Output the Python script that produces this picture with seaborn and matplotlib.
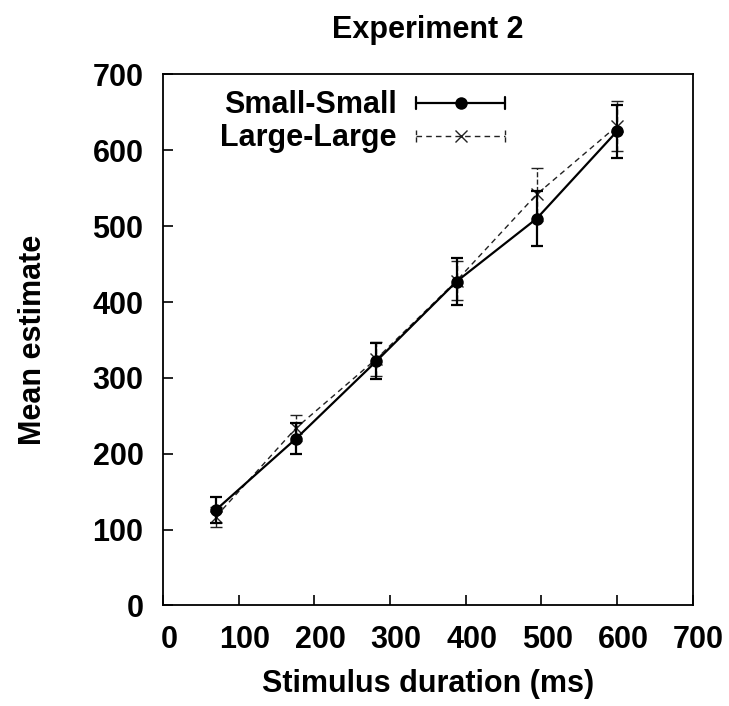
import matplotlib
matplotlib.use("Agg")

import numpy as np
import pandas as pd
import seaborn as sns
import matplotlib.pyplot as plt
import matplotlib.transforms as mtransforms
from matplotlib.lines import Line2D
from matplotlib.legend_handler import HandlerLine2D

# Data
durations = [70, 176, 282, 388, 494, 600]
small_mean = [126, 220, 322, 427, 510, 625]
small_err = [17, 21, 24, 31, 36, 35]
large_mean = [117, 234, 325, 428, 542, 632]
large_err = [13, 17, 22, 26, 35, 33]

sns.set_style("white")
plt.rcParams['font.family'] = ['Liberation Sans', 'DejaVu Sans']
plt.rcParams['font.weight'] = 'bold'
for key in ['text.color', 'axes.labelcolor', 'xtick.color', 'ytick.color', 'axes.edgecolor']:
    plt.rcParams[key] = 'black'

DASH = (0, (4, 3))
DCOL = '#222222'


class CapHandler(HandlerLine2D):
    # gnuplot-style key sample: horizontal line with end caps
    def create_artists(self, legend, orig_handle, xdescent, ydescent,
                       width, height, fontsize, trans):
        artists = super().create_artists(legend, orig_handle, xdescent, ydescent,
                                         width, height, fontsize, trans)
        yc = height / 2 - ydescent
        h = 0.2 * fontsize
        for x in (-xdescent, width - xdescent):
            cap = Line2D([x, x], [yc - h, yc + h], color=orig_handle.get_color(),
                         lw=orig_handle.get_linewidth(),
                         linestyle=orig_handle.get_linestyle(), transform=trans)
            artists.append(cap)
        return artists


df = pd.DataFrame({
    'duration': durations * 2,
    'mean': small_mean + large_mean,
    'group': ['Small-Small'] * len(durations) + ['Large-Large'] * len(durations),
})

fig = plt.figure(figsize=(7.29, 7.06), dpi=100)
ax = fig.add_axes([0.2236, 0.1425, 0.7264, 0.752])

# error bars
ax.errorbar(durations, small_mean, yerr=small_err, fmt='none', ecolor='black',
            elinewidth=1.6, capsize=4, capthick=1.6, zorder=3)
eb = ax.errorbar(durations, large_mean, yerr=large_err, fmt='none', ecolor=DCOL,
                 elinewidth=1.0, capsize=4, capthick=1.0, zorder=2)
for coll in eb[2]:
    coll.set_linestyle('--')

sns.lineplot(data=df[df.group == 'Large-Large'], x='duration', y='mean', ax=ax,
             color=DCOL, lw=1.0, linestyle=DASH, marker='x', markersize=8,
             markeredgewidth=1.0, markeredgecolor=DCOL, zorder=2)
sns.lineplot(data=df[df.group == 'Small-Small'], x='duration', y='mean', ax=ax,
             color='black', lw=1.6, marker='o', markersize=9, markeredgewidth=0,
             zorder=4)

ax.set_xlim(0, 700)
ax.set_ylim(0, 700)
ax.set_xticks(range(0, 701, 100))
ax.set_yticks(range(0, 701, 100))
ax.tick_params(direction='in', length=7, width=1.2, labelsize=22,
               bottom=True, left=True, top=False, right=False)
ax.tick_params(axis='y', pad=14)
ax.tick_params(axis='x', pad=14)
# gnuplot places the x tick labels a little right of the tick
shift = mtransforms.ScaledTranslation(6 / 100, 0, fig.dpi_scale_trans)
for lab in ax.get_xticklabels():
    lab.set_transform(lab.get_transform() + shift)
for lab in ax.get_xticklabels() + ax.get_yticklabels():
    lab.set_fontweight('bold')
for sp in ax.spines.values():
    sp.set_visible(True)
    sp.set_color('black')
    sp.set_linewidth(1.3)

ax.set_xlabel('Stimulus duration (ms)', fontsize=22, fontweight='bold', labelpad=10)
ax.set_ylabel('Mean estimate', fontsize=22, fontweight='bold', labelpad=32)
ax.set_title('Experiment 2', fontsize=22, fontweight='bold', pad=26)

h_small = Line2D([], [], color='black', lw=1.6, marker='o', markersize=9,
                 markeredgewidth=0)
h_large = Line2D([], [], color=DCOL, lw=1.0, linestyle=DASH, marker='x',
                 markersize=8, markeredgewidth=1.0)
leg = ax.legend([h_small, h_large], ['Small-Small', 'Large-Large'],
                loc='upper left', bbox_to_anchor=(0.1075, 0.97), frameon=False,
                markerfirst=False, handlelength=2.9, handletextpad=0.65,
                labelspacing=0.1, borderpad=0, borderaxespad=0,
                prop={'size': 22, 'weight': 'bold'},
                handler_map={Line2D: CapHandler()})

fig.savefig('out.png', dpi=100)
plt.close(fig)
